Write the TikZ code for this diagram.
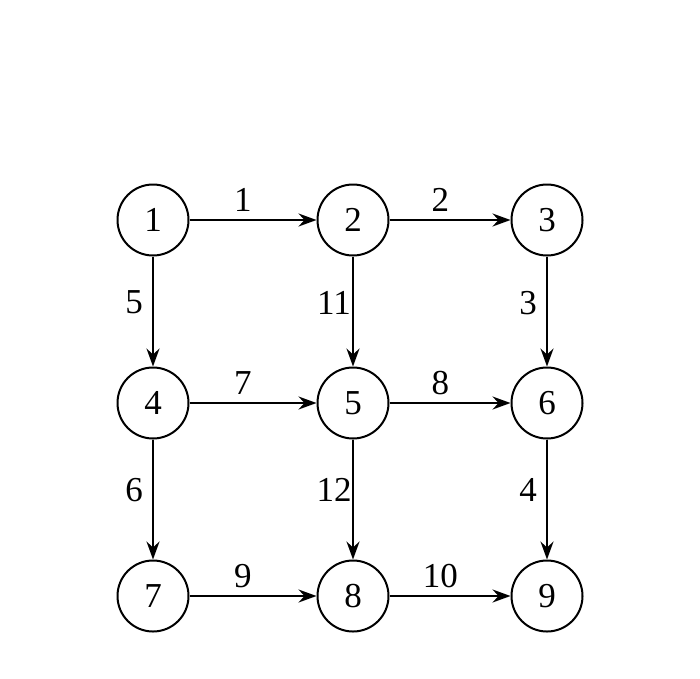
\documentclass[tikz,border=0pt]{standalone}
\usepackage{fontspec}
\setmainfont{Liberation Serif}
\usepackage{tikz}
\usetikzlibrary{arrows.meta,backgrounds}
\usetikzlibrary{shapes}
\usetikzlibrary{fit,calc}
\tikzstyle{vertex}=[draw, circle, line width=2pt, minimum size=71pt, inner sep=0pt, font=\fontsize{35}{40}\selectfont]
\tikzstyle{flow}=[line width=2pt, -{Stealth[length=18pt, width=13pt, inset=6pt]}]
\tikzstyle{weight}=[inner sep=0pt, font=\fontsize{35}{40}\selectfont]
\newcommand{\edgeh}[3]{
	\draw[flow] (#1) -- node[weight, pos=.42, yshift=20pt] {#3} (#2);
}
\newcommand{\edgev}[3]{
	\draw[flow] (#1) -- node[weight, pos=.42, xshift=-19pt] {#3} (#2);
}
\begin{document}
\begin{tikzpicture}[x=1pt, y=-1pt]
%
	\useasboundingbox (0,0) rectangle (700,678);
	\node[vertex] (n1) at (153,220) {1};
	\node[vertex] (n2) at (353,220) {2};
	\node[vertex] (n3) at (547,220) {3};
	\node[vertex] (n4) at (153,403) {4};
	\node[vertex] (n5) at (353,403) {5};
	\node[vertex] (n6) at (547,403) {6};
	\node[vertex] (n7) at (153,596) {7};
	\node[vertex] (n8) at (353,596) {8};
	\node[vertex] (n9) at (547,596) {9};
%
	\edgeh{n1}{n2}{1}
	\edgeh{n2}{n3}{2}
	\edgeh{n4}{n5}{7}
	\edgeh{n5}{n6}{8}
	\edgeh{n7}{n8}{9}
	\edgeh{n8}{n9}{10}
%
	\edgev{n1}{n4}{5}
	\edgev{n2}{n5}{11}
	\edgev{n3}{n6}{3}
	\edgev{n4}{n7}{6}
	\edgev{n5}{n8}{12}
	\edgev{n6}{n9}{4}
\end{tikzpicture}
\end{document}
